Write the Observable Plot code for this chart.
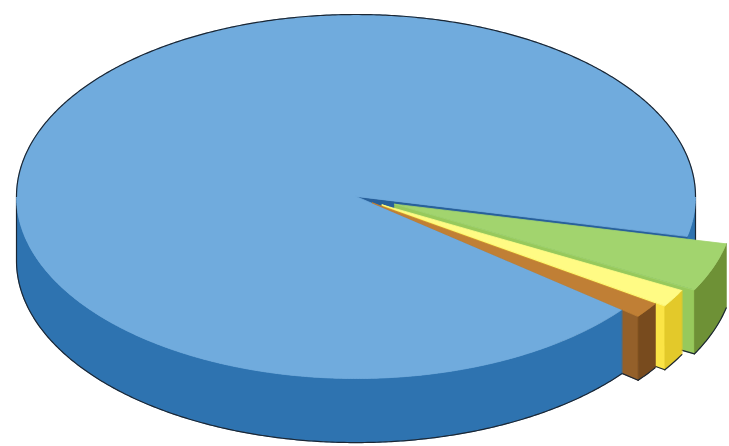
<!DOCTYPE html>
<html><head><meta charset="utf-8">
<script src="https://cdn.jsdelivr.net/npm/d3@7"></script>
<script src="https://cdn.jsdelivr.net/npm/@observablehq/plot@0.6"></script>
<style>html,body{margin:0;padding:0;background:#fff;} #chart svg{display:block;}</style>
</head><body><div id="chart"></div>
<script>
// ---- data ----
const categories = ["Slice 1", "Slice 2", "Slice 3", "Slice 4"];
const values = [92.8, 4.3, 1.55, 1.35];

// ---- styles ----
const topColors  = ["#70abdd", "#a2d46e", "#fffb84", "#c07f35"];
const sideColors = ["#2e73b0", "#6e9136", "#e3c92a", "#784b1e"];
const wallColors = ["#28609a", "#97c95c", "#fbe445", "#94602a"];
const explode = [0, 0.122, 0.09, 0.06];
const startAngle = 38.5;   // degrees, clockwise from 3 o'clock
const depth = 0.352;       // thickness in y units
const outline = "#1b2633";

const rad = Math.PI / 180;
const total = d3.sum(values);
let acc = startAngle;
const slices = categories.map((name, i) => {
  const a0 = acc, a1 = acc + values[i] / total * 360;
  acc = a1;
  const mid = (a0 + a1) / 2 * rad;
  return {name, i, a0: a0 * rad, a1: a1 * rad,
          ox: explode[i] * Math.cos(mid), oy: explode[i] * Math.sin(mid)};
});

const pt = (s, t, r, z) => ({x: s.ox + r * Math.cos(t), y: s.oy + r * Math.sin(t) + z * depth});
function arc(s, t0, t1, z) {
  const n = Math.max(2, Math.ceil(Math.abs(t1 - t0) / (0.5 * rad)));
  return d3.range(n + 1).map(k => pt(s, t0 + (t1 - t0) * k / n, 1, z));
}
// front-facing parts of the outer wall: angles where sin > 0
function visibleRanges(s) {
  const out = [];
  for (let k = -1; k <= 2; k++) {
    const lo = Math.max(s.a0, 2 * Math.PI * k), hi = Math.min(s.a1, 2 * Math.PI * k + Math.PI);
    if (hi > lo) out.push([lo, hi]);
  }
  return out;
}
const topFace = s => [pt(s, 0, 0, 0), ...arc(s, s.a0, s.a1, 0)];
const sideFace = (s, lo, hi) => [...arc(s, lo, hi, 0), ...arc(s, hi, lo, 1)];
const wall = (s, t) => [pt(s, t, 0, 0), pt(s, t, 1, 0), pt(s, t, 1, 1), pt(s, t, 0, 1)];

// layers drawn back-to-front
const layers = [];
const newLayer = () => { const L = {faces: [], lines: []}; layers.push(L); return L; };

const blue = slices[0];
// blue parts behind the exploded slices
{
  const L = newLayer();
  visibleRanges(blue).filter(([lo]) => lo >= 2 * Math.PI).forEach(([lo, hi]) => {
    L.faces.push({fill: sideColors[0], pts: sideFace(blue, lo, hi)});
    L.lines.push([pt(blue, lo, 1, 0), pt(blue, lo, 1, 1), ...arc(blue, lo, hi, 1)]);
  });
  if (Math.cos(blue.a1) > 0) L.faces.push({fill: wallColors[0], pts: wall(blue, blue.a1)});
}
// walls and outer sides of the exploded slices, back to front
slices.slice(1).forEach(s => {
  const L = newLayer();
  if (Math.cos(s.a1) > 0) L.faces.push({fill: wallColors[s.i], pts: wall(s, s.a1)});
  if (Math.cos(s.a0) < 0) L.faces.push({fill: wallColors[s.i], pts: wall(s, s.a0)});
  visibleRanges(s).forEach(([lo, hi]) => {
    L.faces.push({fill: sideColors[s.i], pts: sideFace(s, lo, hi)});
    L.lines.push(arc(s, lo, hi, 1));
  });
  L.lines.push([pt(s, s.a1, 1, 1), pt(s, s.a1, 0.93, 1)]);
});
// blue front side
{
  const L = newLayer();
  visibleRanges(blue).filter(([lo]) => lo < 2 * Math.PI).forEach(([lo, hi]) => {
    L.faces.push({fill: sideColors[0], pts: sideFace(blue, lo, hi)});
    L.lines.push([...arc(blue, lo, hi, 1), pt(blue, hi, 1, 0)]);
  });
}
// blue top
{
  const L = newLayer();
  L.faces.push({fill: topColors[0], pts: topFace(blue)});
  L.lines.push(arc(blue, Math.PI, 2 * Math.PI, 0));
}
// exploded slice tops
{
  const L = newLayer();
  slices.slice(1).forEach(s => L.faces.push({fill: topColors[s.i], pts: topFace(s)}));
}

let fid = 0;
const marks = [];
layers.forEach(L => {
  const fd = L.faces.flatMap(f => { const id = fid++; return f.pts.map(p => ({...p, id, fill: f.fill})); });
  const ld = L.lines.flatMap(l => { const id = fid++; return l.map(p => ({...p, id})); });
  if (fd.length) marks.push(Plot.line(fd, {x: "x", y: "y", z: "id", fill: "fill", stroke: "fill",
    strokeWidth: 0.8, curve: "linear-closed"}));
  if (ld.length) marks.push(Plot.line(ld, {x: "x", y: "y", z: "id", stroke: outline,
    strokeWidth: 1.2, curve: "linear"}));
});

const chart = Plot.plot({
  width: 729, height: 446,
  marginTop: 0, marginRight: 0, marginBottom: 0, marginLeft: 0,
  x: {domain: [-1, 1], range: [16, 695], axis: null},
  y: {domain: [-1, 1], range: [14, 378], axis: null},
  color: {type: "identity"},
  style: {background: "#fff", overflow: "visible"},
  marks
});
document.getElementById("chart").appendChild(chart);
</script>
</body></html>
